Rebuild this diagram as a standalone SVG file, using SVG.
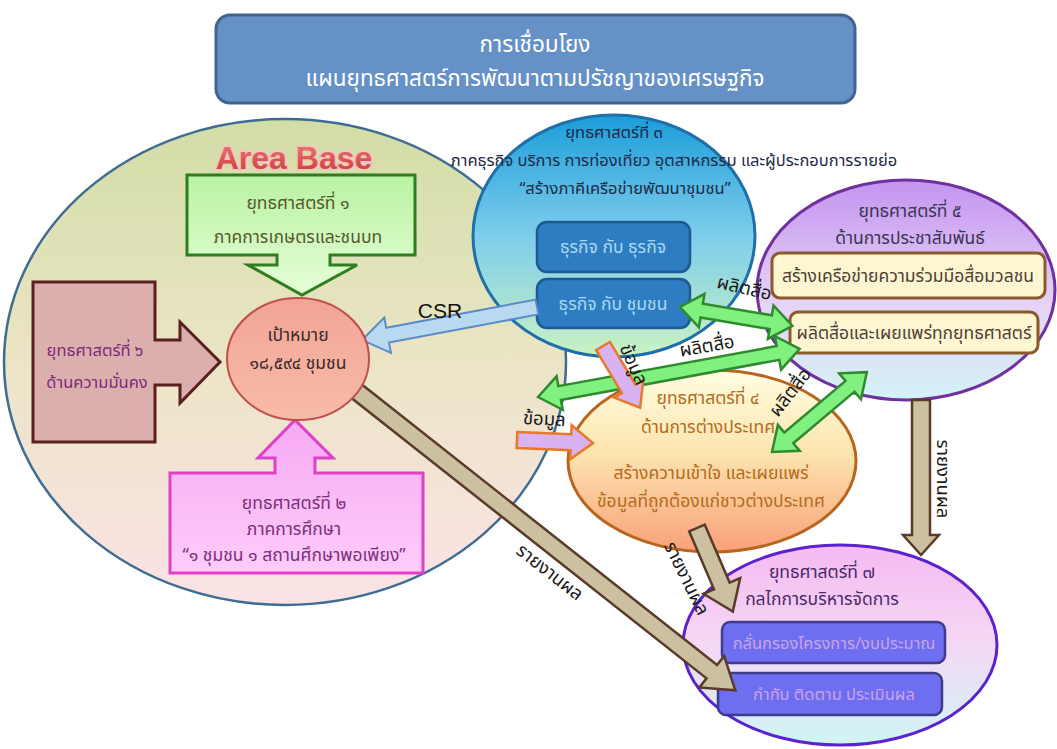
<svg xmlns="http://www.w3.org/2000/svg" width="1057" height="749" viewBox="0 0 1057 749">
<style>
text{font-family:"Noto Sans Thai","Tahoma","DejaVu Sans","Noto Sans",sans-serif;text-anchor:middle}
.t{font-size:17.5px}
.lbl{font-size:18.5px;fill:#1A1A1A}
.garrow{fill:#80F07E;stroke:#2F8A2F;stroke-width:2.5;stroke-linejoin:miter}
.larrow{fill:#D9B2F2;stroke:#E8782A;stroke-width:2.5}
.rarrow{fill:#CBC1A1;stroke:#5A3A2A;stroke-width:2.5}
</style>
<defs>
<linearGradient id="gArea" x1="0" y1="0" x2="0" y2="1"><stop offset="0" stop-color="#D2DDA6"/><stop offset="0.5" stop-color="#EBE5C6"/><stop offset="1" stop-color="#FCE2E6"/></linearGradient>
<linearGradient id="gS3" x1="0" y1="0" x2="0" y2="1"><stop offset="0" stop-color="#1B9DDA"/><stop offset="0.5" stop-color="#7DCDEB"/><stop offset="1" stop-color="#CBF3C3"/></linearGradient>
<linearGradient id="gS5" x1="0" y1="0" x2="0" y2="1"><stop offset="0" stop-color="#C394F0"/><stop offset="0.55" stop-color="#E6D2F6"/><stop offset="1" stop-color="#D3F3F6"/></linearGradient>
<linearGradient id="gS4" x1="0" y1="0" x2="0" y2="1"><stop offset="0" stop-color="#FFFDE2"/><stop offset="0.45" stop-color="#FCE5AE"/><stop offset="1" stop-color="#F9A07A"/></linearGradient>
<linearGradient id="gS7" x1="0" y1="0" x2="0" y2="1"><stop offset="0" stop-color="#F5BAF2"/><stop offset="0.5" stop-color="#F5D8F4"/><stop offset="1" stop-color="#CEF6F6"/></linearGradient>
<linearGradient id="gT" x1="0" y1="0" x2="0" y2="1"><stop offset="0" stop-color="#F2A496"/><stop offset="1" stop-color="#F8BCA8"/></linearGradient>
<linearGradient id="gS1" x1="0" y1="0" x2="0" y2="1"><stop offset="0" stop-color="#B9F2A2"/><stop offset="1" stop-color="#E6FFD8"/></linearGradient>
<linearGradient id="gS2" x1="0" y1="0" x2="0" y2="1"><stop offset="0" stop-color="#F6A9F2"/><stop offset="1" stop-color="#FFCCFB"/></linearGradient>
<linearGradient id="gAB" x1="0" y1="0" x2="0" y2="1"><stop offset="0" stop-color="#F07A76"/><stop offset="1" stop-color="#C63A36"/></linearGradient>
</defs>

<g id="title">
<rect x="216" y="15" width="639" height="88" rx="14" fill="#6591C7" stroke="#41638F" stroke-width="3"/>
<text x="535" y="52" font-size="22.5" fill="#FFFFFF">การเชื่อมโยง</text>
<text x="535" y="86" font-size="22.5" fill="#FFFFFF">แผนยุทธศาสตร์การพัฒนาตามปรัชญาของเศรษฐกิจ</text>
</g>

<g id="area-base">
<ellipse cx="285" cy="362" rx="281" ry="243" fill="url(#gArea)" stroke="#3E6C92" stroke-width="2.5"/>
<text x="294" y="169" font-size="32" font-weight="bold" fill="url(#gAB)" stroke="#F6C2BE" stroke-width="3" paint-order="stroke" style="font-family:'Liberation Sans',Arial,sans-serif">Area Base</text>
</g>

<g id="s3">
<ellipse cx="614" cy="236" rx="141" ry="121" fill="url(#gS3)" stroke="#1F6FA8" stroke-width="3"/>
<text x="614" y="138" font-size="16.5" fill="#1E2A48">ยุทธศาสตร์ที่ ๓</text>
<text x="674" y="166" font-size="16.5" fill="#1E2A48">ภาคธุรกิจ บริการ การท่องเที่ยว อุตสาหกรรม และผู้ประกอบการรายย่อ</text>
<text x="625" y="194" font-size="16.5" fill="#1E2A48">“สร้างภาคีเครือข่ายพัฒนาชุมชน”</text>
<rect x="537" y="222" width="153" height="50" rx="10" fill="#2E7DC2" stroke="#1D5A8F" stroke-width="2.5"/>
<text x="613" y="253" font-size="17.5" fill="#A9D8F5">ธุรกิจ กับ ธุรกิจ</text>
<rect x="537" y="279" width="153" height="49" rx="10" fill="#2E7DC2" stroke="#1D5A8F" stroke-width="2.5"/>
<text x="613" y="310" font-size="17.5" fill="#A9D8F5">ธุรกิจ กับ ชุมชน</text>
</g>

<g id="s5">
<ellipse cx="906" cy="290" rx="149" ry="110" fill="url(#gS5)" stroke="#7030A0" stroke-width="3"/>
<text x="910" y="217" class="t" fill="#3A3552">ยุทธศาสตร์ที่ ๕</text>
<text x="910" y="244" class="t" fill="#3A3552">ด้านการประชาสัมพันธ์</text>
<rect x="772" y="253" width="273" height="45" rx="8" fill="#FEF6D0" stroke="#8B5A2B" stroke-width="3"/>
<text x="908" y="282" class="t" fill="#4E4036">สร้างเครือข่ายความร่วมมือสื่อมวลชน</text>
<rect x="790" y="312" width="248" height="41" rx="8" fill="#FEF6D0" stroke="#8B5A2B" stroke-width="3"/>
<text x="914" y="339" class="t" fill="#4E4036">ผลิตสื่อและเผยแพร่ทุกยุทธศาสตร์</text>
</g>

<g id="s4">
<ellipse cx="712" cy="461" rx="144" ry="91" fill="url(#gS4)" stroke="#B8651E" stroke-width="3"/>
<text x="708" y="404" class="t" fill="#B56A20">ยุทธศาสตร์ที่ ๔</text>
<text x="708" y="433" class="t" fill="#B56A20">ด้านการต่างประเทศ</text>
<text x="711" y="479" class="t" fill="#B56A20">สร้างความเข้าใจ และเผยแพร่</text>
<text x="711" y="507" class="t" fill="#B56A20">ข้อมูลที่ถูกต้องแก่ชาวต่างประเทศ</text>
</g>

<g id="s7">
<ellipse cx="840" cy="645" rx="157" ry="100" fill="url(#gS7)" stroke="#5B22D0" stroke-width="3"/>
<text x="822" y="578" class="t" fill="#4A2A6A">ยุทธศาสตร์ที่ ๗</text>
<text x="822" y="605" class="t" fill="#4A2A6A">กลไกการบริหารจัดการ</text>
<rect x="722" y="622" width="223" height="41" rx="8" fill="#6E6EF0" stroke="#3C3C8A" stroke-width="2.5"/>
<text x="834" y="649" font-size="16.5" fill="#C9A3EE">กลั่นกรองโครงการ/งบประมาณ</text>
<rect x="718" y="673" width="224" height="42" rx="8" fill="#6E6EF0" stroke="#3C3C8A" stroke-width="2.5"/>
<text x="834" y="700" font-size="16.5" fill="#C9A3EE">กำกับ ติดตาม ประเมินผล</text>
</g>

<g id="connectors">
<polygon transform="translate(350,386) rotate(38.3)" class="rarrow" points="0,-8.5 461,-8.5 461,-20 491,0 461,20 461,8.5 0,8.5"/>
<polygon transform="translate(697,528) rotate(66.8)" class="rarrow" points="0,-8.5 63,-8.5 63,-20 91,0 63,20 63,8.5 0,8.5"/>
<polygon transform="translate(921,400) rotate(90)" class="rarrow" points="0,-9 135,-9 135,-18 155,0 135,18 135,9 0,9"/>
<polygon transform="translate(537,307) rotate(169.3)" fill="#B9D9F1" stroke="#5A8AC8" stroke-width="2" points="0,-7.5 152,-7.5 152,-18 178,0 152,18 152,7.5 0,7.5"/>
<polygon transform="translate(680,307) rotate(9.5)" class="garrow" points="0,0 22,-17 22,-7 92,-7 92,-17 114,0 92,17 92,7 22,7 22,17"/>
<polygon transform="translate(538,397) rotate(-10.4)" class="garrow" points="0,0 22,-17 22,-7 244,-7 244,-17 266,0 244,17 244,7 22,7 22,17"/>
<polygon transform="translate(772,452) rotate(-40.1)" class="garrow" points="0,0 22,-17 22,-7 102,-7 102,-17 124,0 102,17 102,7 22,7 22,17"/>
<polygon transform="translate(603,346) rotate(59)" class="larrow" points="0,-8 50,-8 50,-17 72,0 50,17 50,8 0,8"/>
<polygon transform="translate(517,440) rotate(2.3)" class="larrow" points="0,-8 54,-8 54,-17 76,0 54,17 54,8 0,8"/>
<text x="440" y="318" font-size="21" fill="#111" style="font-family:'Liberation Sans',Arial,sans-serif">CSR</text>
<text transform="translate(743,294) rotate(13)" class="lbl">ผลิตสื่อ</text>
<text transform="translate(708,352) rotate(-10)" class="lbl">ผลิตสื่อ</text>
<text transform="translate(795,396) rotate(-52)" class="lbl">ผลิตสื่อ</text>
<text transform="translate(628,367) rotate(66)" class="lbl">ข้อมูล</text>
<text transform="translate(544,425) rotate(3)" class="lbl">ข้อมูล</text>
<text transform="translate(546,577) rotate(38)" class="lbl">รายงานผล</text>
<text transform="translate(681,581) rotate(64)" class="lbl">รายงานผล</text>
<text transform="translate(937,479) rotate(90)" class="lbl">รายงานผล</text>
</g>

<g id="s1">
<path d="M187,175 H415 V255 H330 V265 H357 L302,295 L248,265 H277 V255 H187 Z" fill="url(#gS1)" stroke="#2E7D1E" stroke-width="3"/>
<text x="298" y="209" class="t" fill="#55582A">ยุทธศาสตร์ที่ ๑</text>
<text x="298" y="243" class="t" fill="#55582A">ภาคการเกษตรและชนบท</text>
</g>

<g id="s6">
<path d="M33,282 H155 V340 H180 V322 L220,362 L180,403 V385 H155 V442 H33 Z" fill="#DCAFAF" stroke="#5A2020" stroke-width="3"/>
<text x="95" y="356" font-size="16.5" fill="#7F2A78">ยุทธศาสตร์ที่ ๖</text>
<text x="97" y="388" font-size="16.5" fill="#7F2A78">ด้านความมั่นคง</text>
</g>

<g id="s2">
<path d="M170,473 H275 V458 H258 L295,420 L333,458 H315 V473 H423 V573 H170 Z" fill="url(#gS2)" stroke="#E040C8" stroke-width="3"/>
<text x="294" y="509" class="t" fill="#7B2F7B">ยุทธศาสตร์ที่ ๒</text>
<text x="294" y="535" class="t" fill="#7B2F7B">ภาคการศึกษา</text>
<text x="294" y="561" class="t" fill="#7B2F7B">“๑ ชุมชน ๑ สถานศึกษาพอเพียง”</text>
</g>

<g id="target">
<ellipse cx="298" cy="359" rx="71" ry="61" fill="url(#gT)" stroke="#C0504D" stroke-width="2"/>
<text x="298" y="341" class="t" fill="#3A2A2A">เป้าหมาย</text>
<text x="298" y="369" class="t" fill="#3A2A2A">๑๘,๕๙๔ ชุมชน</text>
</g>
</svg>
